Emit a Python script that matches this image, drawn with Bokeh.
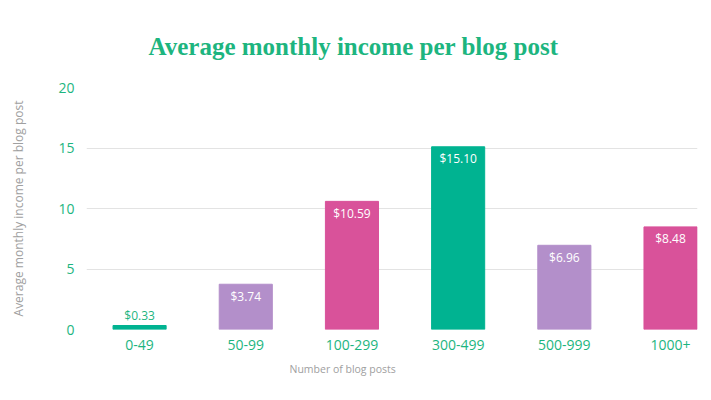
from bokeh.plotting import figure
from bokeh.models import ColumnDataSource, FixedTicker, Range1d, Title
from bokeh.embed import file_html
from bokeh.resources import INLINE
from bokeh.core.properties import value

categories = ["0-49", "50-99", "100-299", "300-499", "500-999", "1000+"]
income = [0.33, 3.74, 10.59, 15.10, 6.96, 8.48]
labels = ["$0.33", "$3.74", "$10.59", "$15.10", "$6.96", "$8.48"]
bar_colors = ["#00b391", "#b38fca", "#d9529a", "#00b391", "#b38fca", "#d9529a"]
y_ticks = [0, 5, 10, 15, 20]

GREEN_TXT = "#1db57f"
xs = list(range(len(categories)))
inside = [v > 1 for v in income]
src = ColumnDataSource(dict(
    x=xs, top=income, color=bar_colors, label=labels,
    tcolor=["white" if i else GREEN_TXT for i in inside],
    yoff=[12 if i else -10 for i in inside],
))

p = figure(width=703, height=392, output_backend="svg", toolbar_location=None,
           x_range=Range1d(-0.5, len(categories) - 1 + 0.254),
           y_range=Range1d(0, 20),
           min_border_left=86, min_border_right=6, min_border_top=87, min_border_bottom=63)
p.outline_line_color = None
p.background_fill_color = "white"
p.border_fill_color = "white"

p.title.text = "Average monthly income per blog post"
p.title.align = "left"
p.title.text_font = "Liberation Serif"
p.title.text_font_style = "bold"
p.title.text_font_size = "25px"
p.title.text_color = "#1db57f"
p.title.offset = 62
p.title.standoff = 56

xlab = Title(text="Number of blog posts", align="left", offset=203,
             text_font="Open Sans", text_font_size="10.5px", text_font_style="normal",
             text_color="#a0a0a0", standoff=14)
p.add_layout(xlab, "below")

p.vbar(x="x", top="top", width=0.5, color="color", source=src)
p.text(x="x", y="top", text="label", text_color="tcolor", y_offset="yoff",
       text_align="center", text_baseline="middle", text_font=value("Open Sans"),
       text_font_size="12px", text_font_style="normal", source=src)

p.xaxis.ticker = FixedTicker(ticks=xs)
p.xaxis.major_label_overrides = {i: c for i, c in zip(xs, categories)}
p.yaxis.ticker = FixedTicker(ticks=y_ticks)
for ax in (p.xaxis, p.yaxis):
    ax.axis_line_color = None
    ax.major_tick_line_color = None
    ax.minor_tick_line_color = None
    ax.major_label_text_font = "Open Sans"
    ax.major_label_text_font_size = "14px"
    ax.major_label_text_font_style = "normal"
    ax.major_label_text_color = GREEN_TXT
p.yaxis.axis_label = "Average monthly income per blog post"
p.yaxis.axis_label_text_font = "Open Sans"
p.yaxis.axis_label_text_font_size = "12px"
p.yaxis.axis_label_text_font_style = "normal"
p.yaxis.axis_label_text_color = "#a0a0a0"
p.xaxis.major_label_standoff = 4
p.yaxis.major_label_standoff = 6
p.yaxis.axis_label_standoff = 28

p.xgrid.grid_line_color = None
p.ygrid.grid_line_color = "#e3e3e3"
p.ygrid.ticker = FixedTicker(ticks=y_ticks)

open("out.html", "w").write(file_html(p, INLINE))
